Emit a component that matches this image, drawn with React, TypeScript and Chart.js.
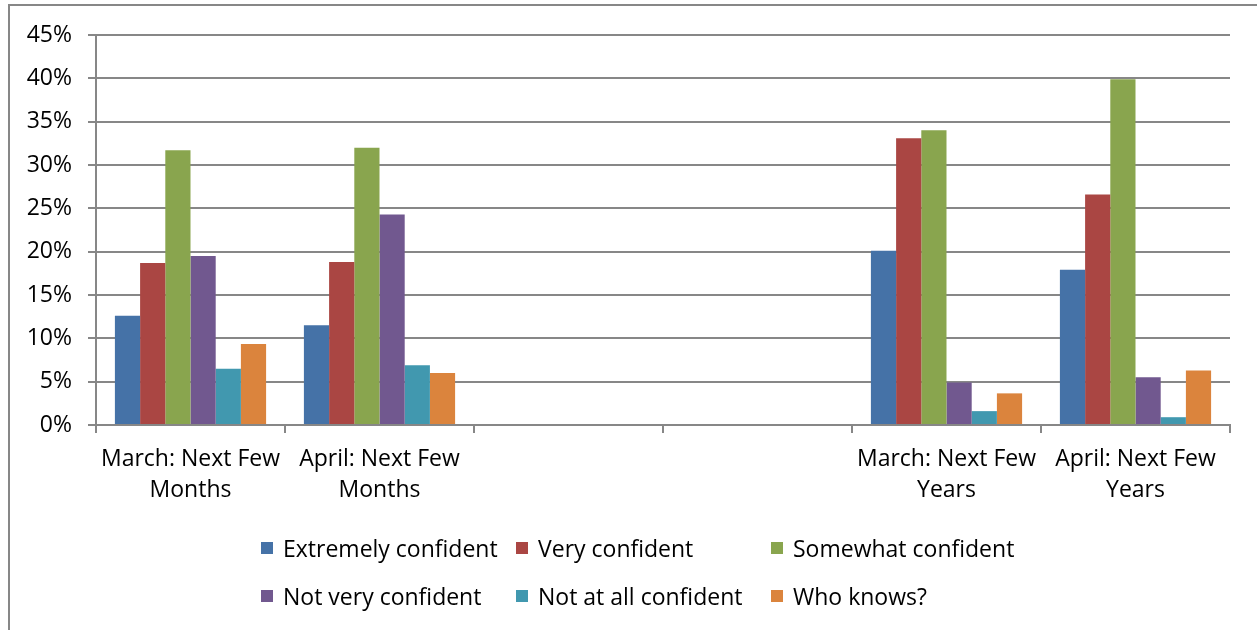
import React, { useEffect, useRef } from "react";
import { Chart, registerables } from "chart.js";
Chart.register(...registerables);

const categories: (string | string[])[] = [
  ["March: Next Few", "Months"],
  ["April: Next Few", "Months"],
  "",
  "",
  ["March: Next Few", "Years"],
  ["April: Next Few", "Years"],
];
const seriesNames = [
  "Extremely confident",
  "Very confident",
  "Somewhat confident",
  "Not very confident",
  "Not at all confident",
  "Who knows?",
];
const seriesColors = ["#4572A7", "#AA4643", "#89A54E", "#71588F", "#4198AF", "#DB843D"];
const extremelyConfident = [12.6, 11.5, null, null, 20.1, 17.9];
const veryConfident = [18.7, 18.8, null, null, 33.1, 26.6];
const somewhatConfident = [31.7, 32.0, null, null, 34.0, 39.9];
const notVeryConfident = [19.5, 24.3, null, null, 4.9, 5.5];
const notAtAllConfident = [6.5, 6.9, null, null, 1.6, 0.9];
const whoKnows = [9.35, 6.0, null, null, 3.65, 6.3];
const seriesValues = [
  extremelyConfident,
  veryConfident,
  somewhatConfident,
  notVeryConfident,
  notAtAllConfident,
  whoKnows,
];
const yTicks = { min: 0, max: 45, step: 5 };

const FONT = "'Open Sans', sans-serif";
const FS = 23;
const GRID = "#878787";

export default function App() {
  const ref = useRef<HTMLCanvasElement>(null);
  useEffect(() => {
    if (!ref.current) return;
    const chart = new Chart(ref.current, {
      type: "bar",
      data: {
        labels: categories,
        datasets: seriesNames.map((n, i) => ({
          label: n,
          data: seriesValues[i],
          backgroundColor: seriesColors[i],
          borderWidth: 0,
          barPercentage: 1,
          categoryPercentage: 0.8,
        })),
      },
      options: {
        animation: false,
        responsive: false,
        maintainAspectRatio: false,
        layout: { padding: { left: 0, right: 27, top: 35, bottom: 0 } },
        plugins: { legend: { display: false }, tooltip: { enabled: false } },
        scales: {
          x: {
            afterFit: (s: any) => {
              s.height = 205;
            },
            grid: {
              offset: true,
              drawOnChartArea: false,
              drawTicks: true,
              tickLength: 8,
              color: GRID,
              lineWidth: 2,
            },
            border: { display: true, color: GRID, width: 2 },
            ticks: {
              color: "#000",
              font: { family: FONT, size: FS, lineHeight: 1.35 },
              padding: 11,
              maxRotation: 0,
              autoSkip: false,
            },
          },
          y: {
            min: yTicks.min,
            max: yTicks.max,
            afterFit: (s: any) => {
              s.width = 96;
            },
            grid: { color: GRID, lineWidth: 2, tickLength: 8 },
            border: { display: true, color: GRID, width: 2 },
            ticks: {
              stepSize: yTicks.step,
              color: "#000",
              font: { family: FONT, size: FS },
              padding: 16,
              callback: (v: any) => v + "%",
            },
          },
        },
      },
    });
    return () => chart.destroy();
  }, []);

  const legendRows = [seriesNames.slice(0, 3), seriesNames.slice(3, 6)];
  return (
    <div style={{ position: "absolute", left: 0, top: 0, width: 1257, height: 630, background: "#fff", overflow: "hidden" }}>
      <div
        style={{
          position: "absolute",
          left: 8,
          top: 4,
          width: 1300,
          height: 700,
          borderTop: `2px solid ${GRID}`,
          borderLeft: `2px solid ${GRID}`,
        }}
      />
      <canvas ref={ref} width={1257} height={630} style={{ position: "absolute", left: 0, top: 0 }} />
      {legendRows.map((row, r) =>
        row.map((name, c) => {
          const i = r * 3 + c;
          return (
            <div
              key={name}
              style={{
                position: "absolute",
                left: 261 + c * 255,
                top: 548 + r * 48 - 16,
                height: 32,
                display: "flex",
                alignItems: "center",
                fontFamily: FONT,
                fontSize: FS,
                color: "#000",
                whiteSpace: "nowrap",
              }}
            >
              <span style={{ width: 12, height: 12, background: seriesColors[i], marginRight: 10, display: "inline-block", flex: "none" }} />
              {name}
            </div>
          );
        })
      )}
    </div>
  );
}
